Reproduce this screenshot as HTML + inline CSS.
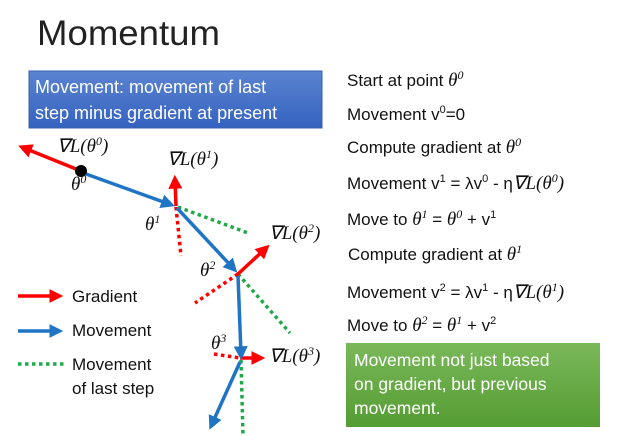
<!DOCTYPE html>
<html><head><meta charset="utf-8"><style>
body{margin:0;background:#fff;}
svg{display:block;font-family:"Liberation Sans",sans-serif;}
.m{font-family:"Liberation Serif",serif;font-style:italic;font-size:19px;}
.s{font-family:"Liberation Serif",serif;font-style:italic;font-size:12px;}
.n{font-size:11px;}
</style></head><body>
<svg width="617" height="436" viewBox="0 0 617 436" xmlns="http://www.w3.org/2000/svg">
<defs>
<linearGradient id="bg" x1="0" y1="0" x2="0" y2="1"><stop offset="0" stop-color="#5b84d0"/><stop offset="1" stop-color="#3462c0"/></linearGradient>
<linearGradient id="gg" x1="0" y1="0" x2="0" y2="1"><stop offset="0" stop-color="#7ab85a"/><stop offset="1" stop-color="#559c33"/></linearGradient>
<marker id="ar" markerWidth="4" markerHeight="4" refX="2.2" refY="2" orient="auto" markerUnits="strokeWidth"><path d="M0,0 L4,2 L0,4z" fill="#f00"/></marker>
<marker id="ab" markerWidth="4" markerHeight="4" refX="2.2" refY="2" orient="auto" markerUnits="strokeWidth"><path d="M0,0 L4,2 L0,4z" fill="#1f74c4"/></marker>
</defs>
<text x="37" y="45" font-size="35" fill="#222" textLength="183" lengthAdjust="spacingAndGlyphs">Momentum</text>
<rect x="29" y="71" width="293" height="57" fill="url(#bg)" stroke="#3a5fa8" stroke-width="1"/>
<text x="35" y="93" font-size="18" fill="#fff">Movement: movement of last</text>
<text x="35" y="119" font-size="18" fill="#fff">step minus gradient at present</text>

<g font-size="17" fill="#111">
<text x="347" y="86">Start at point <tspan class="m">θ</tspan><tspan class="s" dy="-7">0</tspan></text>
<text x="347" y="120">Movement v<tspan class="n" dy="-7">0</tspan><tspan dy="7">=0</tspan></text>
<text x="347" y="153">Compute gradient at <tspan class="m">θ</tspan><tspan class="s" dy="-7">0</tspan></text>
<text x="347" y="189">Movement v<tspan class="n" dy="-7">1</tspan><tspan dy="7"> = λv</tspan><tspan class="n" dy="-7">0</tspan><tspan dy="7"> - η</tspan><tspan class="m">∇L(θ</tspan><tspan class="s" dy="-7">0</tspan><tspan class="m" dy="7">)</tspan></text>
<text x="347" y="225">Move to <tspan class="m">θ</tspan><tspan class="s" dy="-7">1</tspan><tspan dy="7"> = </tspan><tspan class="m">θ</tspan><tspan class="s" dy="-7">0</tspan><tspan dy="7"> + v</tspan><tspan class="n" dy="-7">1</tspan></text>
<text x="348" y="260">Compute gradient at <tspan class="m">θ</tspan><tspan class="s" dy="-7">1</tspan></text>
<text x="347" y="298">Movement v<tspan class="n" dy="-7">2</tspan><tspan dy="7"> = λv</tspan><tspan class="n" dy="-7">1</tspan><tspan dy="7"> - η</tspan><tspan class="m">∇L(θ</tspan><tspan class="s" dy="-7">1</tspan><tspan class="m" dy="7">)</tspan></text>
<text x="347" y="331">Move to <tspan class="m">θ</tspan><tspan class="s" dy="-7">2</tspan><tspan dy="7"> = </tspan><tspan class="m">θ</tspan><tspan class="s" dy="-7">1</tspan><tspan dy="7"> + v</tspan><tspan class="n" dy="-7">2</tspan></text>
</g>

<rect x="346" y="343" width="254" height="84" fill="url(#gg)"/>
<text x="354" y="366" font-size="17.5" fill="#fff">Movement not just based</text>
<text x="354" y="390" font-size="17.5" fill="#fff">on gradient, but previous</text>
<text x="354" y="414" font-size="17.5" fill="#fff">movement.</text>

<g stroke-dasharray="3.5,3.5" stroke-width="3.5" fill="none">
<line x1="178" y1="207" x2="248" y2="233" stroke="#1faa4a"/>
<line x1="176" y1="207" x2="181" y2="256" stroke="#f00"/>
<line x1="238" y1="274" x2="290" y2="333" stroke="#1faa4a"/>
<line x1="238" y1="274" x2="195" y2="303" stroke="#f00"/>
<line x1="241" y1="360" x2="243" y2="436" stroke="#1faa4a"/>
<line x1="214" y1="354" x2="240" y2="358" stroke="#f00"/>
<line x1="18" y1="364" x2="64" y2="364" stroke="#1faa4a"/>
</g>
<g stroke="#f00" stroke-width="3.5" marker-end="url(#ar)">
<line x1="81" y1="171" x2="24" y2="148"/>
<line x1="176" y1="206" x2="175" y2="181"/>
<line x1="238" y1="274" x2="265" y2="249"/>
<line x1="240" y1="358" x2="259" y2="358"/>
<line x1="18" y1="296" x2="57" y2="296"/>
</g>
<g stroke="#1f74c4" stroke-width="3.5" marker-end="url(#ab)">
<line x1="86" y1="174" x2="169" y2="204"/>
<line x1="177" y1="208" x2="233" y2="268"/>
<line x1="238" y1="276" x2="241" y2="354"/>
<line x1="240" y1="362" x2="212" y2="424"/>
<line x1="18" y1="331" x2="57" y2="331"/>
</g>
<circle cx="81" cy="171" r="6" fill="#000"/>

<g font-size="17" fill="#111">
<text x="71" y="190"><tspan class="m">θ</tspan><tspan class="s" dy="-7">0</tspan></text>
<text x="57" y="152"><tspan class="m">∇L(θ</tspan><tspan class="s" dy="-7">0</tspan><tspan class="m" dy="7">)</tspan></text>
<text x="167" y="165"><tspan class="m">∇L(θ</tspan><tspan class="s" dy="-7">1</tspan><tspan class="m" dy="7">)</tspan></text>
<text x="145" y="230"><tspan class="m">θ</tspan><tspan class="s" dy="-7">1</tspan></text>
<text x="269" y="239"><tspan class="m">∇L(θ</tspan><tspan class="s" dy="-7">2</tspan><tspan class="m" dy="7">)</tspan></text>
<text x="200" y="276"><tspan class="m">θ</tspan><tspan class="s" dy="-7">2</tspan></text>
<text x="211" y="349"><tspan class="m">θ</tspan><tspan class="s" dy="-7">3</tspan></text>
<text x="269" y="362"><tspan class="m">∇L(θ</tspan><tspan class="s" dy="-7">3</tspan><tspan class="m" dy="7">)</tspan></text>
<text x="72" y="302">Gradient</text>
<text x="72" y="336">Movement</text>
<text x="72" y="370">Movement</text>
<text x="72" y="394">of last step</text>
</g>
</svg>
</body></html>
